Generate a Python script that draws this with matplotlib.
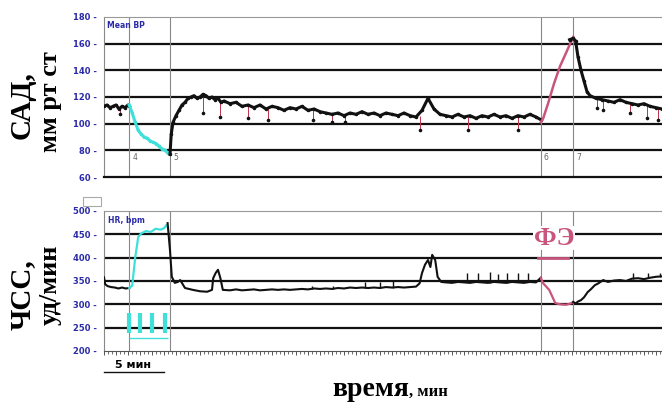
import numpy as np
import matplotlib.pyplot as plt
from matplotlib.patches import Rectangle
from matplotlib.ticker import MultipleLocator, NullFormatter

# time in minutes from the left edge of the record
# --- Mean BP, mm Hg ---
bp_pre_t = [0, 0.25, 0.5, 0.75, 1.0, 1.25, 1.5, 1.75, 2.0, 2.1]
bp_pre = [113, 114, 112, 113, 114, 111, 113, 112, 114, 113]

bp_cyan_t = [2.1, 2.35, 2.6, 2.85, 3.1, 3.35, 3.6, 3.85, 4.1, 4.35, 4.6, 4.85, 5.1, 5.3]
bp_cyan = [114, 108, 101, 95, 92, 90, 89, 87, 86, 85, 83, 81, 80, 78]

bp_mid_t = [5.5, 5.6, 5.75, 6.0, 6.25, 6.5, 6.75, 7.0, 7.25, 7.5, 7.75, 8.0, 8.25, 8.5,
            8.75, 9.0, 9.25, 9.5, 9.75, 10.0, 10.5, 11.0, 11.5, 12.0, 12.5, 13.0, 13.5,
            14.0, 14.5, 15.0, 15.5, 16.0, 16.5, 17.0, 17.5, 18.0, 18.5, 19.0, 19.5, 20.0,
            20.5, 21.0, 21.5, 22.0, 22.5, 23.0, 23.5, 24.0, 24.5, 25.0, 25.5, 26.0, 26.5,
            27.0, 27.5, 28.0, 28.5, 29.0, 29.5, 30.0, 30.5, 31.0, 31.5, 32.0, 32.5, 33.0,
            33.5, 34.0, 34.5, 35.0, 35.5, 36.0, 36.4]
bp_mid = [77, 92, 101, 106, 110, 114, 116, 119, 120, 121, 119, 120, 122, 121,
          119, 120, 118, 119, 116, 117, 115, 116, 113, 114, 112, 114, 111,
          113, 112, 110, 112, 111, 113, 110, 111, 109, 108, 107, 108, 106,
          108, 107, 109, 107, 108, 106, 108, 107, 106, 108, 106, 105, 110,
          119, 111, 107, 106, 105, 107, 105, 106, 104, 106, 105, 107, 105,
          106, 104, 106, 105, 107, 105, 103]

bp_pink_t = [36.4, 36.6, 37.0, 37.5, 38.0, 38.5, 38.9, 39.1]
bp_pink = [101, 104, 115, 130, 143, 153, 161, 165]

bp_post_t = [38.8, 39.1, 39.3, 39.5, 39.75, 40.0, 40.25, 40.5, 41.0, 41.5, 42.0, 42.5,
             43.0, 43.5, 44.0, 44.5, 45.0, 45.5, 46.0, 46.5]
bp_post = [163, 164, 162, 150, 140, 132, 124, 121, 119, 118, 117, 116,
           118, 116, 115, 114, 115, 113, 112, 111]

bp_dip_t = [1.33, 8.25, 9.7, 12.0, 13.7, 17.4, 19.0, 20.1, 26.3, 30.3, 34.5, 41.1, 41.6, 43.8, 45.25, 46.2]
bp_dip_top = [113, 120, 117, 114, 113, 111, 108, 107, 106, 105, 106, 119, 118, 116, 114, 112]
bp_dip = [107, 108, 105, 104, 103, 103, 101, 101, 95, 95, 95, 112, 110, 108, 104, 103]

# --- HR, bpm ---
hr_pre_t = [0, 0.1, 0.3, 0.6, 0.9, 1.2, 1.5, 1.8, 2.1]
hr_pre = [358, 343, 339, 337, 336, 334, 336, 334, 335]

hr_cyan_t = [2.1, 2.35, 2.6, 2.85, 3.1, 3.5, 3.9, 4.3, 4.7, 5.0, 5.2, 5.3]
hr_cyan = [335, 340, 400, 444, 452, 457, 455, 462, 460, 463, 470, 466]

hr_mid_t = [5.3, 5.5, 5.65, 5.9, 6.15, 6.35, 6.75, 7.4, 8.0, 8.6, 9.0, 9.1, 9.3, 9.5,
            9.7, 9.9, 10.5, 11.0, 11.5, 12.0, 12.5, 13.0, 13.5, 14.0, 14.5, 15.0,
            15.5, 16.0, 16.5, 17.0, 17.5, 18.0, 18.5, 19.0, 19.5, 20.0, 20.5, 21.0,
            21.5, 22.0, 22.5, 23.0, 23.5, 24.0, 24.5, 25.0, 25.5, 26.0, 26.3, 26.5,
            26.75, 27.0, 27.2, 27.35, 27.6, 27.8, 28.1, 28.5, 29.0, 29.5, 30.0, 30.5,
            31.0, 31.5, 32.0, 32.5, 33.0, 33.5, 34.0, 34.5, 35.0, 35.5, 36.0, 36.4]
hr_mid = [474, 416, 359, 346, 348, 352, 335, 331, 328, 327, 331, 356, 367, 374,
          356, 331, 330, 332, 330, 331, 332, 330, 331, 332, 331, 332,
          331, 332, 333, 332, 334, 333, 334, 333, 335, 334, 336, 335,
          336, 335, 336, 335, 337, 336, 337, 336, 337, 338, 345, 367,
          385, 395, 380, 406, 395, 359, 348, 347, 346, 348, 347, 346,
          348, 347, 346, 348, 347, 346, 348, 347, 346, 348, 347, 357]

hr_pink_t = [36.4, 36.6, 37.1, 37.6, 38.0, 38.5, 38.9, 39.1]
hr_pink = [357, 345, 331, 303, 300, 299, 302, 305]

hr_post_t = [39.1, 39.3, 39.5, 39.75, 40.0, 40.3, 40.6, 40.9, 41.2, 41.6, 42.0, 42.5,
             43.0, 43.5, 44.0, 44.5, 45.0, 45.5, 46.0, 46.5]
hr_post = [305, 302, 306, 309, 315, 326, 333, 341, 345, 352, 348, 351,
           352, 350, 355, 356, 354, 357, 359, 360]

hr_spike_t = [17.3, 19.1, 21.75, 23.0, 24.1, 30.25, 31.2, 32.2, 32.8, 33.6, 34.5, 35.3, 44.1, 45.3, 46.3]
hr_spike_base = [332, 333, 335, 335, 336, 347, 348, 346, 347, 346, 347, 348, 355, 356, 358]
hr_spike_top = [340, 340, 347, 348, 349, 368, 368, 369, 366, 368, 367, 368, 367, 368, 367]

# event markers
event_t = [2.1, 5.5, 36.4, 39.1]
event_lbl = ["4", "5", "6", "7"]

# stimulation bars
stim_t = [2.1, 3.0, 4.0, 5.1]
stim_lo, stim_hi, stim_base = 239, 281, 228

bp_ticks = [60, 80, 100, 120, 140, 160, 180]
hr_ticks = [200, 250, 300, 350, 400, 450, 500]

black = "#111111"
cyan = "#3fe0da"
pink = "#c8557e"
blue = "#2a2aa8"
serif = ["Liberation Serif", "DejaVu Serif"]

fig = plt.figure(figsize=(6.62, 4.03), dpi=100)
ax1 = fig.add_axes([104/662, 1-177/403, 558/662, 160/403])
ax2 = fig.add_axes([104/662, 1-351/403, 558/662, 140/403])

for ax, ticks in [(ax1, bp_ticks), (ax2, hr_ticks)]:
    ax.set_xlim(0, 46.5)
    ax.set_ylim(ticks[0], ticks[-1])
    ax.set_yticks(ticks)
    ax.set_yticklabels([f"{v} -" for v in ticks], color=blue, fontsize=6, fontweight="bold")
    ax.tick_params(axis="y", length=0, pad=5)
    for v in ticks[1:-1]:
        ax.axhline(v, color=black, lw=1.6, zorder=1)
    ax.spines["right"].set_visible(False)
    ax.spines["left"].set_color("#888888")
    ax.spines["left"].set_linewidth(0.8)
    ax.spines["top"].set_color("#999999")
    ax.spines["top"].set_linewidth(0.8)
    for t in event_t:
        ax.axvline(t, color="#888888", lw=0.8, zorder=1)

ax1.spines["bottom"].set_color(black)
ax1.spines["bottom"].set_linewidth(1.6)
ax1.set_xticks([])

ax2.spines["bottom"].set_color("#555555")
ax2.spines["bottom"].set_linewidth(0.8)
ax2.xaxis.set_major_locator(MultipleLocator(1))
ax2.xaxis.set_minor_locator(MultipleLocator(1/3))
ax2.xaxis.set_major_formatter(NullFormatter())
ax2.tick_params(axis="x", which="major", length=3, width=0.7, color="#555555")
ax2.tick_params(axis="x", which="minor", length=2, width=0.6, color="#555555")

for t, lbl in zip(event_t, event_lbl):
    ax1.text(t + 0.25, 75, lbl, fontsize=5.5, color="#666666", va="center")

# BP traces
ax1.vlines(bp_dip_t, bp_dip, bp_dip_top, color="#c0304a", lw=0.7, zorder=3)
ax1.plot(bp_dip_t, bp_dip, "o", color=black, ms=1.6, zorder=4)
ax1.plot(bp_pre_t, bp_pre, color=black, lw=2.2, marker="o", ms=1.5, zorder=3)
ax1.plot(bp_cyan_t, bp_cyan, color=cyan, lw=2.2, marker="o", ms=1.5, zorder=3)
ax1.plot(bp_mid_t, bp_mid, color=black, lw=2.2, marker="o", ms=1.5, zorder=3)
ax1.plot(bp_pink_t, bp_pink, color=pink, lw=1.8, zorder=3)
ax1.plot(bp_post_t, bp_post, color=black, lw=2.2, marker="o", ms=1.5, zorder=3)
ax1.text(0.006, 0.975, "Mean BP", transform=ax1.transAxes, fontsize=5.5,
         fontweight="bold", color=blue, va="top", ha="left")

# HR traces
ax2.vlines(hr_spike_t, hr_spike_base, hr_spike_top, color=black, lw=1.0, zorder=3)
ax2.plot(hr_pre_t, hr_pre, color=black, lw=1.5, zorder=3)
ax2.plot(hr_cyan_t, hr_cyan, color=cyan, lw=1.6, zorder=3)
ax2.plot(hr_mid_t, hr_mid, color=black, lw=1.5, zorder=3)
ax2.plot(hr_pink_t, hr_pink, color=pink, lw=1.6, zorder=3)
ax2.plot(hr_post_t, hr_post, color=black, lw=1.5, zorder=3)
ax2.text(0.008, 0.965, "HR, bpm", transform=ax2.transAxes, fontsize=5.5,
         fontweight="bold", color=blue, va="top", ha="left")

ax2.vlines(stim_t, stim_lo, stim_hi, color=cyan, lw=3, zorder=4)
ax2.hlines(stim_base, stim_t[0], stim_t[-1] + 0.2, color=cyan, lw=1, zorder=4)

# phenylephrine mark
ax2.text(37.5, 442, "ФЭ", color=pink, fontsize=19, fontweight="bold", family=serif,
         ha="center", va="center", zorder=5,
         bbox=dict(facecolor="white", edgecolor="none", pad=0.5))
ax2.plot([36.2, 38.7], [400, 400], color=pink, lw=2, zorder=5)

# 5-min scale bar
ax2.plot([0, 5], [155, 155], color=black, lw=1, clip_on=False)
ax2.text(2.45, 160, "5 мин", fontsize=8, fontweight="bold", ha="center", va="bottom")

# axis titles
fig.text(22/662, 1-105/403, "САД,", rotation=90, fontsize=21, fontweight="bold",
         family=serif, ha="center", va="center")
fig.text(50/662, 1-102/403, "мм рт ст", rotation=90, fontsize=19, fontweight="bold",
         family=serif, ha="center", va="center")
fig.text(22/662, 1-295/403, "ЧСС,", rotation=90, fontsize=21, fontweight="bold",
         family=serif, ha="center", va="center")
fig.text(50/662, 1-285/403, "уд/мин", rotation=90, fontsize=19, fontweight="bold",
         family=serif, ha="center", va="center")
fig.text(409/662, 1-396/403, "время", fontsize=20, fontweight="bold", family=serif,
         ha="right", va="baseline")
fig.text(409/662, 1-396/403, ", мин", fontsize=12, fontweight="bold", family=serif,
         ha="left", va="baseline")

fig.add_artist(Rectangle((83/662, 1-206/403), 18/662, 9/403, transform=fig.transFigure,
                         fill=False, ec="#aaaaaa", lw=0.8))

fig.savefig("out.png", dpi=100)
